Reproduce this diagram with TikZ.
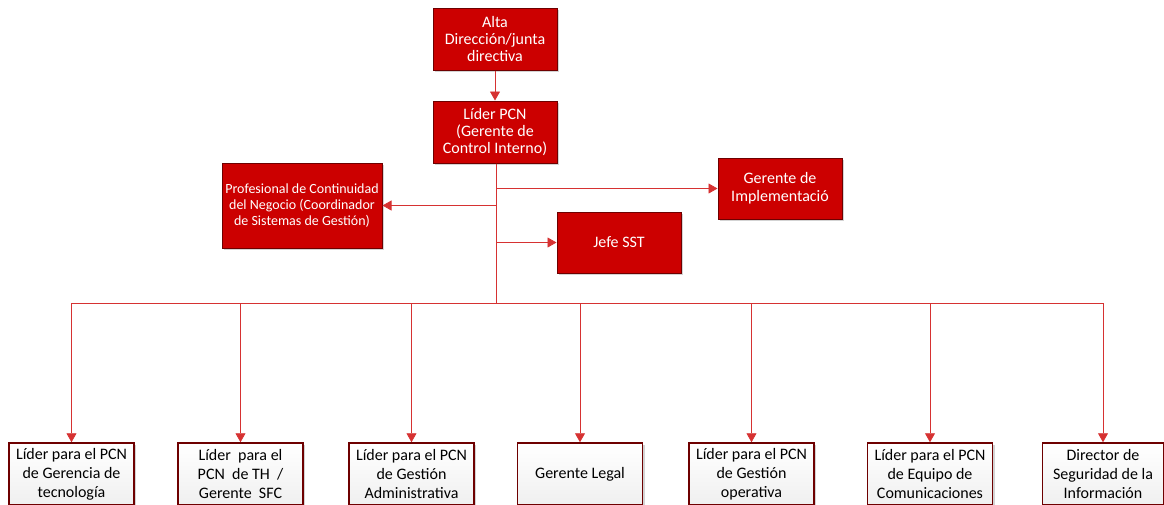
\documentclass[tikz,border=0pt]{standalone}
\usepackage{fontspec}
\setmainfont{Carlito}
\usetikzlibrary{arrows.meta,shadows}
\definecolor{boxred}{RGB}{204,0,0}
\definecolor{edgered}{RGB}{110,0,0}
\definecolor{linered}{RGB}{214,50,50}
\begin{document}
\begin{tikzpicture}[x=1pt,y=-1pt,
  redbox/.style={draw=edgered, line width=1pt, fill=boxred, text=white, align=center,
    inner sep=0pt, font=\fontsize{16}{17}\selectfont,
    drop shadow={shadow xshift=2pt,shadow yshift=-2pt,opacity=0.35}},
  whitebox/.style={draw=edgered, line width=1.5pt, top color=white, bottom color=gray!12,
    text=black, align=center, inner sep=0pt, font=\fontsize{16}{19}\selectfont,
    minimum width=125pt, minimum height=62pt,
    drop shadow={shadow xshift=2pt,shadow yshift=-2pt,opacity=0.35}},
  conn/.style={draw=linered, line width=0.8pt},
  arr/.style={conn, -{Triangle[width=10pt,length=9pt]}}]
\path[clip] (0,0) rectangle (1164,504);
\path[use as bounding box] (0,0) rectangle (1164,504);

% top nodes
\node[redbox, minimum width=124pt, minimum height=62pt] (alta) at (495,39)
  {Alta\\Dirección/junta\\directiva};
\node[redbox, minimum width=124pt, minimum height=62pt] (lider) at (495,132)
  {Líder PCN\\(Gerente de\\Control Interno)};
\node[redbox, minimum width=160pt, minimum height=85pt, font=\fontsize{14}{16}\selectfont] (prof) at (302,205.5)
  {Profesional de Continuidad\\del Negocio (Coordinador\\de Sistemas de Gestión)};
\node[redbox, minimum width=124pt, minimum height=61pt, font=\fontsize{16}{18}\selectfont] (impl) at (780,188.5)
  {Gerente de\\Implementació};
\node[redbox, minimum width=124pt, minimum height=61pt] (sst) at (619,242.5)
  {Jefe SST};

% bottom nodes
\node[whitebox] (b1) at (71.5,474) {Líder para el PCN\\de Gerencia de\\tecnología};
\node[whitebox] (b2) at (240.5,474) {Líder \ para el\\PCN \ de TH \ /\\Gerente \ SFC};
\node[whitebox] (b3) at (411.5,474) {Líder para el PCN\\de Gestión\\Administrativa};
\node[whitebox] (b4) at (580,474) {Gerente Legal};
\node[whitebox] (b5) at (751.5,474) {Líder para el PCN\\de Gestión\\operativa};
\node[whitebox] (b6) at (930,474) {Líder para el PCN\\de Equipo de\\Comunicaciones};
\node[whitebox, minimum width=121pt] (b7) at (1103,474) {Director de\\Seguridad de la\\Información};

% connectors
\coordinate (bus) at (496,303);
\draw[arr] (alta.south) -- (lider.north);
\draw[conn] (lider.south -| bus) -- (bus);
\draw[arr] (lider.south -| bus) |- (impl.west);
\draw[arr] (lider.south -| bus) |- (prof.east);
\draw[arr] (lider.south -| bus) |- (sst.west);
\draw[conn] (bus -| b1) -- (bus -| b7);
\foreach \b in {b1,b2,b3,b4,b5,b6,b7}{
  \draw[arr] (bus -| \b) -- (\b.north);
}
\end{tikzpicture}
\end{document}
